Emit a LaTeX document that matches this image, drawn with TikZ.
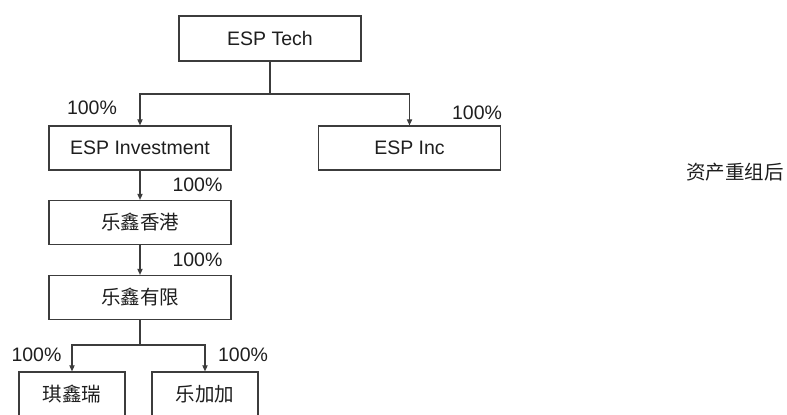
\documentclass[tikz,border=0pt]{standalone}
\usepackage{fontspec}
\setmainfont{Liberation Sans}
\newfontfamily\cjk{Noto Sans CJK SC}
\usepackage{tikz}
\usetikzlibrary{arrows.meta, positioning}
\definecolor{linegray}{RGB}{60, 60, 60}
\definecolor{textgray}{RGB}{30, 30, 30}

\begin{document}
\begin{tikzpicture}[x=0.5pt, y=-0.5pt,
  font=\fontsize{9.75}{12}\selectfont, text=textgray,
  box/.style={draw=linegray, line width=0.6pt, minimum width=91pt, minimum height=22pt, inner sep=0pt},
  smallbox/.style={box, minimum width=53pt},
  link/.style={-{Triangle[length=3pt, width=2.6pt]}, linegray, line width=0.55pt}]
  \useasboundingbox (0, 0) rectangle (787, 415);

  % Top level
  \node[box, minimum height=22.5pt] (tech) at (270, 38.5) {ESP Tech};

  % Second level
  \node[box] (inv) at (140, 148) {ESP Investment};
  \node[box] (inc) at (409.5, 148) {ESP Inc};

  % Chain below ESP Investment
  \node[box] (hk) at (140, 222.5) {\cjk 乐鑫香港};
  \node[box] (ltd) at (140, 297.5) {\cjk 乐鑫有限};

  % Bottom level
  \node[smallbox] (qxr) at (72, 394) {\cjk 琪鑫瑞};
  \node[smallbox] (ljj) at (205, 394) {\cjk 乐加加};

  % Split points
  \coordinate (split1) at (270, 94);
  \coordinate (split2) at (140, 345);

  % Connectors
  \draw[linegray, line width=0.55pt] (tech.south) -- (split1);
  \draw[link] (split1) -| (inv.north);
  \draw[link] (split1) -| (inc.north);
  \draw[link] (inv.south) -- (hk.north);
  \draw[link] (hk.south) -- (ltd.north);
  \draw[linegray, line width=0.55pt] (ltd.south) -- (split2);
  \draw[link] (split2) -| (qxr.north);
  \draw[link] (split2) -| (ljj.north);

  % Shares
  \node (p1) at (92, 108) {100\%};
  \node (p2) at (477, 113) {100\%};
  \node (p3) at (197.5, 185) {100\%};
  \node (p4) at (197.5, 260) {100\%};
  \node (p5) at (36.5, 355) {100\%};
  \node (p6) at (243, 355) {100\%};

  % Caption
  \node (note) at (735, 172) {\cjk 资产重组后};
\end{tikzpicture}
\end{document}
